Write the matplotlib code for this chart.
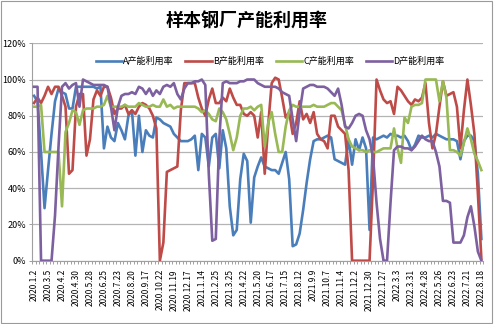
import matplotlib
matplotlib.use('Agg')
import matplotlib.pyplot as plt
from matplotlib.patches import Rectangle
import numpy as np

# 中文字体，缺字时回退到 DejaVu
plt.rcParams['font.family'] = ['Noto Sans CJK SC', 'DejaVu Sans']
plt.rcParams['axes.unicode_minus'] = False

# 横轴标签（每4周一个）
tick_labels = ['2020.1.2', '2020.3.5', '2020.4.2', '2020.4.30', '2020.5.28', '2020.6.25',
               '2020.7.23', '2020.8.20', '2020.9.17', '2020.10.22', '2020.11.19', '2020.12.17',
               '2021.1.14', '2021.2.25', '2021.3.25', '2021.4.22', '2021.5.20', '2021.6.17',
               '2021.7.15', '2021.8.12', '2021.9.9', '2021.10.7', '2021.11.4', '2021.12.2',
               '2021.12.30', '2022.1.27', '2022.3.3', '2022.3.31', '2022.4.28', '2022.5.26',
               '2022.6.23', '2022.7.21', '2022.8.18']

# 各钢厂产能利用率（%），每周一个值
a_rate = [91, 88, 60, 29, 50, 70, 88, 95, 93, 92,
          84, 84, 96, 96, 96, 96, 96, 96, 95, 96,
          62, 74, 68, 66, 76, 72, 67, 80, 83, 58,
          80, 60, 72, 69, 68, 79, 78, 76, 75, 74,
          70, 68, 66, 66, 66, 67, 69, 50, 70, 68,
          52, 68, 70, 51, 72, 62, 30, 14, 17, 45,
          59, 55, 21, 46, 52, 57, 52, 51, 50, 50,
          48, 54, 60, 45, 8, 9, 15, 28, 43, 56,
          66, 67, 67, 68, 69, 68, 56, 55, 54, 53,
          67, 53, 67, 61, 68, 62, 17, 68, 67, 68,
          69, 68, 70, 69, 69, 68, 69, 66, 61, 64,
          69, 68, 68, 69, 68, 70, 69, 68, 67, 67,
          67, 66, 56, 66, 69, 69, 66, 48, 12]

b_rate = [87, 90, 87, 91, 96, 92, 96, 96, 91, 85,
          48, 50, 85, 92, 92, 58, 67, 89, 94, 91,
          96, 96, 90, 81, 84, 84, 86, 81, 83, 81,
          85, 87, 86, 84, 80, 73, 0, 10, 49, 50,
          51, 52, 83, 98, 98, 98, 98, 90, 84, 80,
          89, 95, 87, 87, 90, 88, 95, 90, 86, 86,
          81, 80, 82, 80, 68, 82, 48, 75, 98, 101,
          100, 90, 79, 82, 70, 76, 88, 78, 81, 76,
          82, 70, 67, 66, 62, 80, 80, 74, 72, 70,
          50, 0, 0, 0, 0, 0, 0, 45, 100, 94,
          89, 87, 88, 81, 96, 94, 91, 88, 86, 89,
          88, 90, 98, 76, 62, 70, 85, 99, 91, 92,
          93, 85, 62, 83, 100, 86, 70, 37, 1]

c_rate = [85, 85, 86, 60, 60, 60, 60, 60, 30, 71,
          76, 83, 82, 75, 83, 84, 84, 84, 85, 85,
          86, 91, 85, 85, 85, 85, 86, 85, 85, 85,
          87, 86, 85, 85, 86, 85, 85, 89, 85, 86,
          84, 85, 85, 85, 85, 85, 85, 84, 82, 83,
          81, 78, 77, 84, 82, 78, 70, 61, 68, 80,
          84, 84, 85, 83, 85, 86, 63, 76, 82, 70,
          60, 60, 74, 83, 86, 85, 85, 85, 85, 85,
          86, 85, 85, 85, 86, 87, 87, 85, 83, 75,
          67, 63, 62, 61, 61, 60, 61, 60, 60, 61,
          62, 62, 62, 73, 62, 54, 79, 76, 85, 86,
          86, 87, 100, 100, 100, 100, 88, 99, 90, 61,
          61, 60, 58, 65, 73, 67, 59, 55, 50]

d_rate = [96, 96, 0, 0, 0, 0, 25, 63, 96, 98,
          95, 97, 98, 85, 100, 99, 98, 97, 97, 97,
          97, 96, 85, 72, 85, 91, 92, 92, 93, 92,
          96, 95, 92, 95, 91, 94, 92, 96, 97, 96,
          98, 92, 89, 95, 98, 98, 99, 99, 100, 97,
          48, 11, 12, 67, 98, 99, 98, 98, 98, 99,
          99, 100, 100, 100, 98, 97, 96, 96, 96, 96,
          95, 93, 92, 91, 78, 66, 82, 95, 96, 97,
          97, 96, 96, 96, 95, 93, 91, 95, 86, 74,
          73, 76, 80, 81, 80, 72, 67, 57, 32, 12,
          0, 0, 32, 61, 63, 63, 62, 62, 61, 63,
          66, 69, 67, 66, 66, 60, 52, 33, 33, 32,
          10, 10, 10, 14, 24, 30, 19, 5, 0]

series_names = ['A产能利用率', 'B产能利用率', 'C产能利用率', 'D产能利用率']
colors = ['#4A7EBB', '#BE4B48', '#98B954', '#7D60A0']

fig = plt.figure(figsize=(4.94, 3.24), dpi=100)
ax = fig.add_axes([0.0654, 0.1954, 0.9126, 0.671])

x = np.arange(len(a_rate))
for vals, name, c in zip([a_rate, b_rate, c_rate, d_rate], series_names, colors):
    ax.plot(x, np.array(vals) / 100, color=c, lw=1.9, label=name,
            solid_joinstyle='round', zorder=3)

# 纵轴
ax.set_ylim(0, 1.2)
yt = np.arange(0, 1.21, 0.2)
ax.set_yticks(yt)
ax.set_yticklabels([f'{int(round(v * 100))}%' for v in yt], fontsize=6.5)
ax.yaxis.grid(True, color='#B4B4B4', lw=0.9)
ax.set_axisbelow(True)

# 横轴：每周一个刻度线，每4周一个标签
ax.set_xlim(-0.5, len(x) - 0.5)
ax.set_xticks(x[::4])
ax.set_xticklabels(tick_labels, rotation=90, fontsize=6)
ax.set_xticks(np.arange(-0.5, len(x), 1), minor=True)
ax.tick_params(axis='x', which='major', length=0, pad=6)
ax.tick_params(axis='x', which='minor', length=2.5, color='#909090', width=0.6)
ax.tick_params(axis='y', length=2.5, color='#909090', width=0.6, pad=2)

for side in ['top', 'right']:
    ax.spines[side].set_visible(False)
ax.spines['left'].set_color('#A0A0A0')
ax.spines['bottom'].set_color('#A0A0A0')

ax.legend(loc='center', bbox_to_anchor=(0.527, 0.918), ncol=4, frameon=False,
          fontsize=6.5, handlelength=2.9, handletextpad=0.15, columnspacing=1.3)

fig.text(0.5, 0.936, '样本钢厂产能利用率', ha='center', va='center',
         fontsize=13, fontweight='bold')

# 图表外框
fig.patches.append(Rectangle((0.002, 0.003), 0.994, 0.994, transform=fig.transFigure,
                             fill=False, edgecolor='#9A9A9A', lw=0.8))

fig.savefig('out.png', dpi=100)
plt.close(fig)
